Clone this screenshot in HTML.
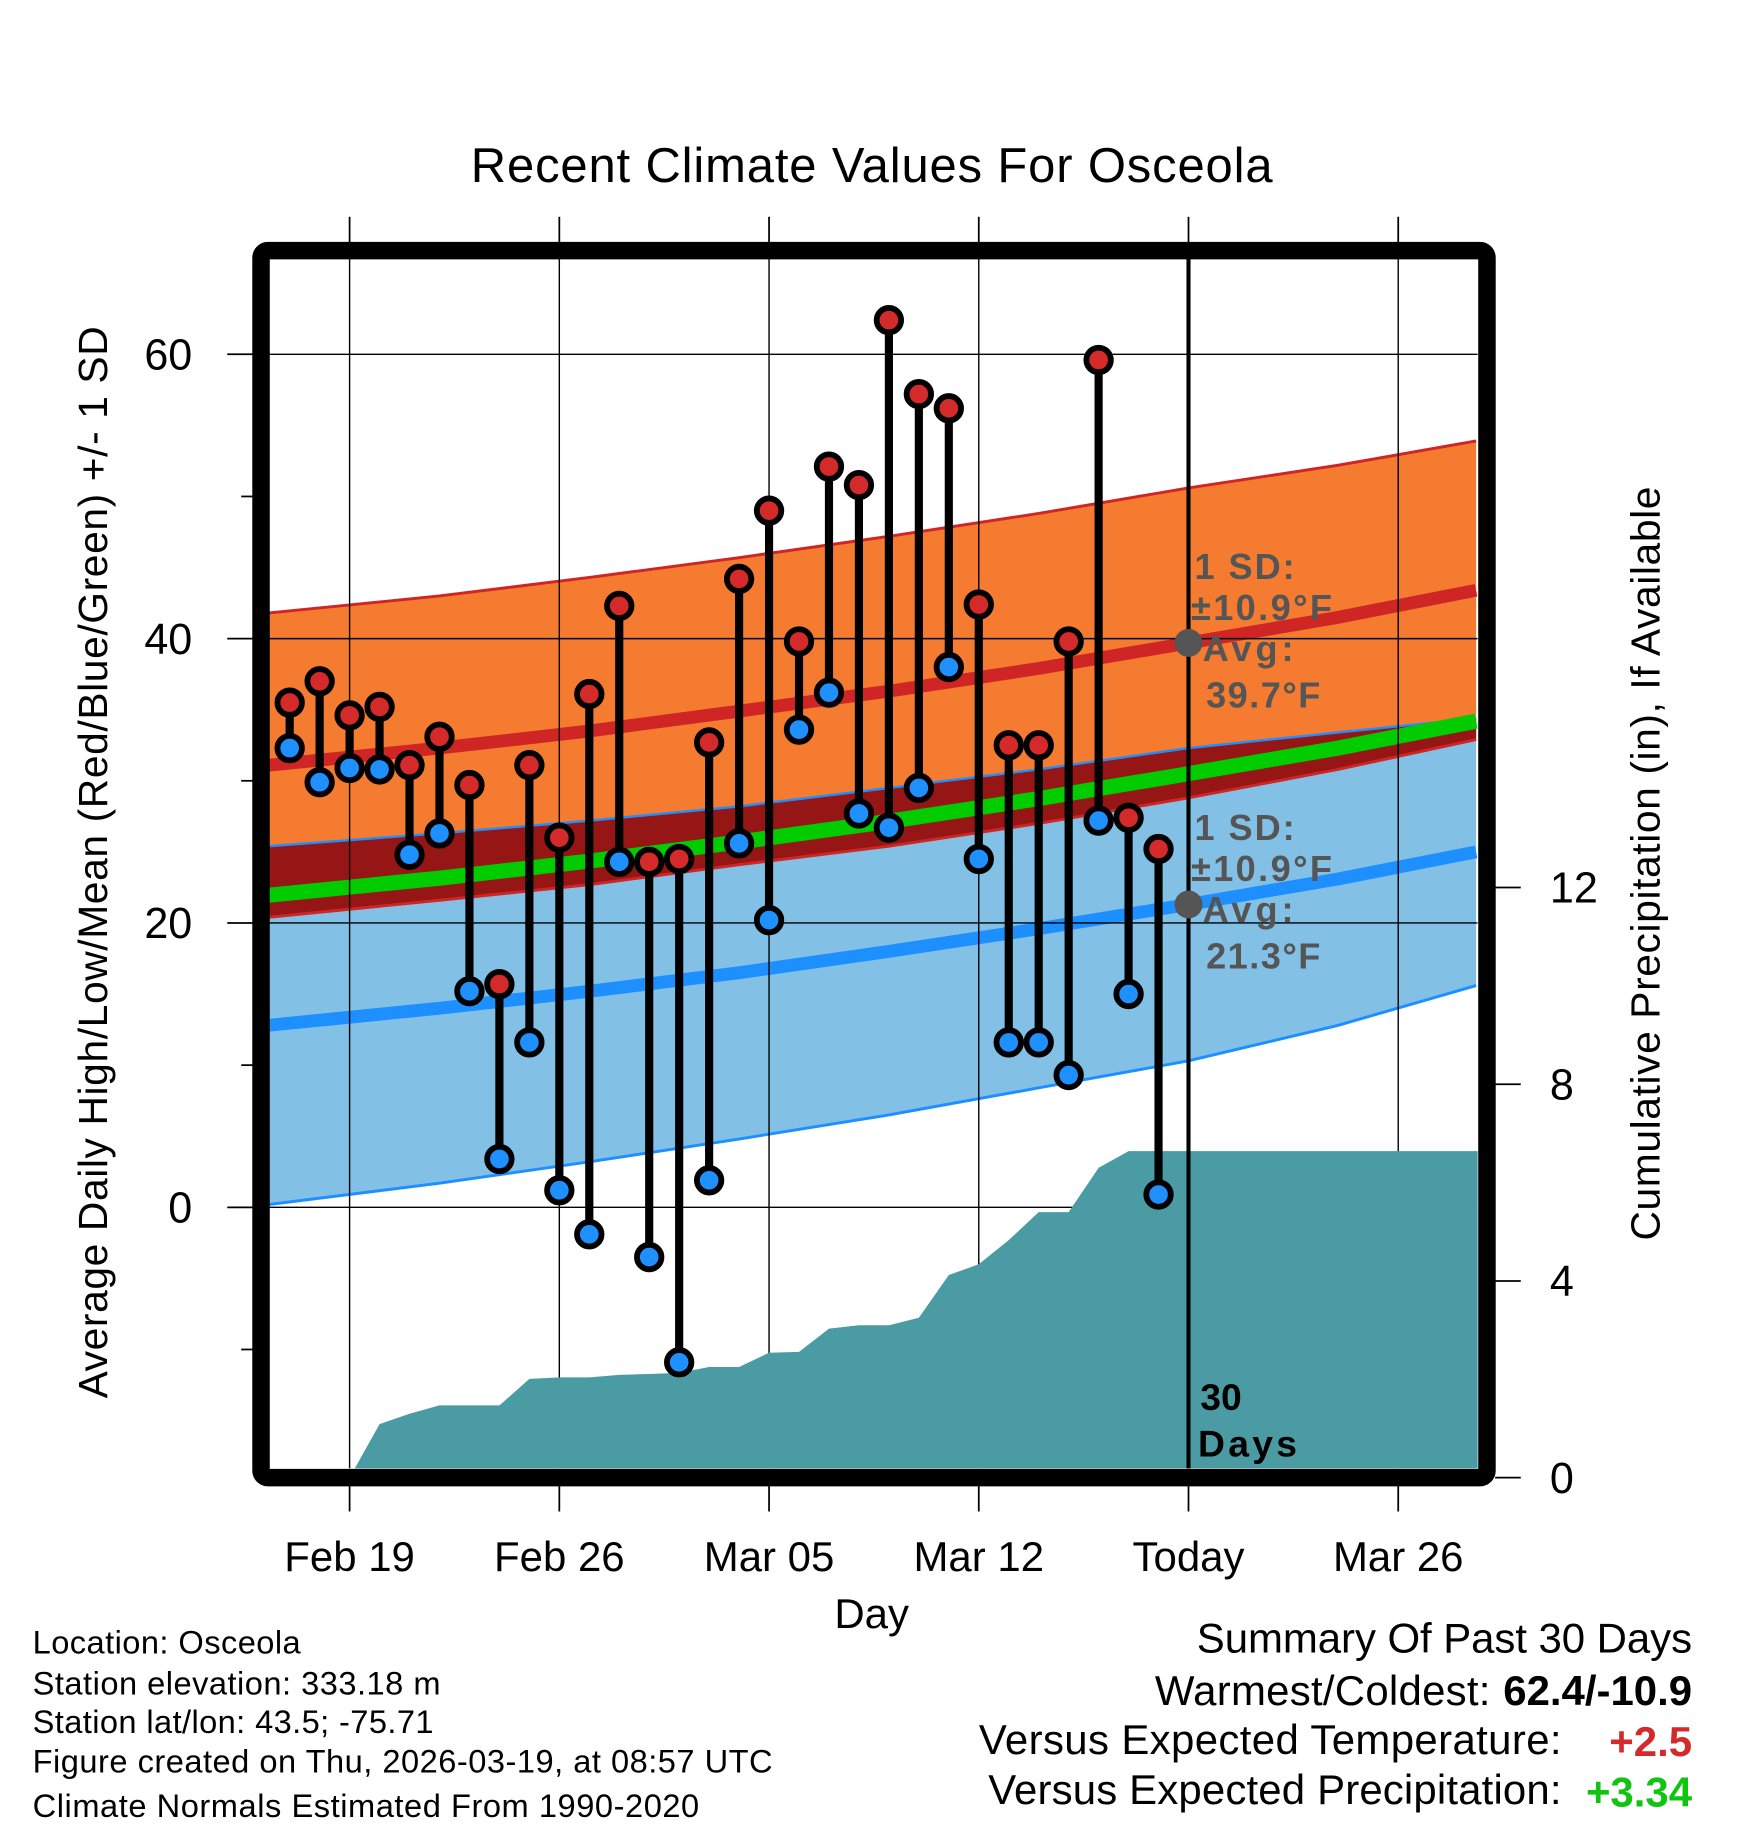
<!DOCTYPE html>
<html><head><meta charset="utf-8"><style>
html,body{margin:0;padding:0;background:#fff}
svg{display:block}
text{font-family:"Liberation Sans",Arial,sans-serif}
</style></head><body>
<svg id="chart" width="1748" height="1828" viewBox="0 0 1500 1568.6" xmlns="http://www.w3.org/2000/svg">
<g id="layer"></g>
</svg>
<script>
const days = [-2,-1,0,1,2,3,4,5,6,7,8,9,10,11,12,13,14,15,16,17,18,19,20,21,22,23,24,25,26,27];
const highs = [35.5,37.0,34.6,35.2,31.1,33.1,29.7,15.7,31.1,26.0,36.1,42.3,24.3,24.5,32.7,44.2,49.0,39.8,52.1,50.8,62.4,57.2,56.2,42.4,32.5,32.5,39.8,59.6,27.4,25.2];
const lows = [32.3,29.9,30.9,30.8,24.8,26.3,15.2,3.4,11.6,1.2,-1.9,24.3,-3.5,-10.9,1.9,25.6,20.2,33.6,36.2,27.7,26.7,29.5,38.0,24.5,11.6,11.6,9.3,27.2,15.0,0.9];
const precip = [0,0,0,1.09,1.30,1.47,1.47,1.47,2.01,2.04,2.04,2.09,2.11,2.13,2.25,2.25,2.54,2.56,3.03,3.10,3.10,3.25,4.12,4.34,4.83,5.40,5.40,6.30,6.64,6.64];
const normDays = [-2.7,3,8,13,18,23,28,33,37.6];
const highAvg = [31.1,32.3,33.5,34.9,36.3,37.9,39.7,41.5,43.4];
const highSD = [10.7,10.7,10.8,10.8,10.9,10.9,10.9,10.7,10.5];
const lowAvg = [12.8,14.0,15.2,16.5,18.0,19.6,21.3,23.1,25.0];
const lowSD = [12.6,12.3,12.0,11.7,11.5,11.2,11.0,10.3,9.4];
const yTicks = [0,20,40,60];
const yMinor = [-10,10,30,50];
const pTicks = [0,4,8,12];
const xTickDays = [0,7,14,21,28,35];
const xTickLabels = ["Feb 19","Feb 26","Mar 05","Mar 12","Today","Mar 26"];
const todayDay = 28;

const X0=231,X1=1268,Y0=222,Y1=1260;
const xs = d => 300 + d*25.71;
const ys = v => 1036 - v*12.2;
const yp = p => 1268 - p*42.2;
const NS="http://www.w3.org/2000/svg";
const L=document.getElementById('layer');
function mk(tag,attrs,parent){const e=document.createElementNS(NS,tag);for(const k in attrs)e.setAttribute(k,attrs[k]);(parent||L).appendChild(e);return e;}
function txt(s,attrs){const e=mk('text',attrs);e.textContent=s;return e;}
const pts=(arr)=>arr.map(p=>p[0].toFixed(1)+','+p[1].toFixed(1)).join(' ');

const defs=mk('defs',{});const cp=mk('clipPath',{id:'pc'},defs);mk('rect',{x:X0,y:Y0,width:X1-X0,height:Y1-Y0},cp);
const g=mk('g',{'clip-path':'url(#pc)'});

const hiU=normDays.map((d,i)=>[xs(d),ys(highAvg[i]+highSD[i])]);
const hiLo=normDays.map((d,i)=>[xs(d),ys(highAvg[i]-highSD[i])]);
const loU=normDays.map((d,i)=>[xs(d),ys(lowAvg[i]+lowSD[i])]);
const loLo=normDays.map((d,i)=>[xs(d),ys(lowAvg[i]-lowSD[i])]);
let e;
e=mk('polygon',{points:pts(hiU.concat(hiLo.slice().reverse())),fill:'#f47b30'},g);

e=mk('polygon',{points:pts(loU.concat(loLo.slice().reverse())),fill:'#82c0e6'},g);

e=mk('polygon',{points:pts(loU.concat(hiLo.slice().reverse())),fill:'#961515'},g);

mk('polyline',{points:pts(hiU),fill:'none',stroke:'#d02525','stroke-width':2.5},g);
mk('polyline',{points:pts(hiLo),fill:'none',stroke:'#d02525','stroke-width':2.5},g);
mk('polyline',{points:pts(loU),fill:'none',stroke:'#1e8fff','stroke-width':2},g);
mk('polyline',{points:pts(loLo),fill:'none',stroke:'#1e8fff','stroke-width':2.5},g);
e=mk('polyline',{points:pts(normDays.map((d,i)=>[xs(d),ys((highAvg[i]+lowAvg[i])/2)])),fill:'none',stroke:'#00cc00','stroke-width':13},g);

e=mk('polyline',{points:pts(normDays.map((d,i)=>[xs(d),ys(highAvg[i])])),fill:'none',stroke:'#d02525','stroke-width':11},g);

e=mk('polyline',{points:pts(normDays.map((d,i)=>[xs(d),ys(lowAvg[i])])),fill:'none',stroke:'#1e8fff','stroke-width':11},g);


yTicks.forEach(v=>{mk('line',{x1:X0,x2:X1,y1:ys(v),y2:ys(v),stroke:'#000','stroke-width':1.2},g);});
xTickDays.forEach(d=>{mk('line',{x1:xs(d),x2:xs(d),y1:Y0,y2:Y1,stroke:'#000','stroke-width':1.2},g);});

const pp=[[xs(days[0]),yp(0)]];
days.forEach((d,i)=>pp.push([xs(d),yp(precip[i])]));
pp.push([X1+5,yp(precip[precip.length-1])]);pp.push([X1+5,yp(0)]);
e=mk('polygon',{points:pts(pp),fill:'#4a9ba4'},g);


e=mk('line',{x1:xs(todayDay),x2:xs(todayDay),y1:Y0,y2:Y1,stroke:'#000','stroke-width':3.5},g);


days.forEach((d,i)=>{
  e=mk('line',{x1:xs(d),x2:xs(d),y1:ys(highs[i]),y2:ys(lows[i]),stroke:'#000','stroke-width':7});
  
});
days.forEach((d,i)=>{
  e=mk('circle',{cx:xs(d),cy:ys(highs[i]),r:10.5,fill:'#d42a2a',stroke:'#000','stroke-width':5});
  
  e=mk('circle',{cx:xs(d),cy:ys(lows[i]),r:10.5,fill:'#1e90ff',stroke:'#000','stroke-width':5});
  
});

const tHi=highAvg[6], tLo=lowAvg[6];
e=mk('circle',{cx:xs(todayDay),cy:ys(tHi),r:12,fill:'#555'});
e=mk('circle',{cx:xs(todayDay),cy:ys(tLo),r:12,fill:'#555'});
function ann(y0,sd,avg,name){
  const a={fill:'#555','font-size':31,'font-weight':'bold'};
  e=txt('1 SD:',Object.assign({x:1025,y:y0,textLength:86},a));
  e=txt('±'+sd.toFixed(1)+'°F',Object.assign({x:1022,y:y0+35,textLength:121},a));
  e=txt('Avg:',Object.assign({x:1032,y:y0+70,textLength:78},a));
  e=txt(avg.toFixed(1)+'°F',Object.assign({x:1035,y:y0+110,textLength:98},a));
}
ann(497,10.9,tHi,'high');
ann(721,10.9,tLo,'low');
e=txt('30',{x:1030,y:1210,'font-size':32,'font-weight':'bold'});
e=txt('Days',{x:1028,y:1250,'font-size':32,'font-weight':'bold',textLength:85});

e=mk('rect',{x:224,y:215,width:1052,height:1053,fill:'none',stroke:'#000','stroke-width':15,rx:6});


yTicks.forEach(v=>{
  mk('line',{x1:195,x2:218,y1:ys(v),y2:ys(v),stroke:'#000','stroke-width':1.5});
  e=txt(String(v),{x:165,y:ys(v)+13,'font-size':37,'text-anchor':'end'});
  
});
yMinor.forEach(v=>{mk('line',{x1:207,x2:218,y1:ys(v),y2:ys(v),stroke:'#000','stroke-width':1.5});});
pTicks.forEach(p=>{
  mk('line',{x1:1283,x2:1305,y1:yp(p),y2:yp(p),stroke:'#000','stroke-width':1.5});
  e=txt(String(p),{x:1330,y:yp(p)+13,'font-size':37});
  
});
xTickDays.forEach((d,i)=>{
  mk('line',{x1:xs(d),x2:xs(d),y1:186,y2:208,stroke:'#000','stroke-width':1.5});
  mk('line',{x1:xs(d),x2:xs(d),y1:1275,y2:1297,stroke:'#000','stroke-width':1.5});
  e=txt(xTickLabels[i],{x:xs(d),y:1348,'font-size':36,'text-anchor':'middle'});
  
});
e=txt('Day',{x:748,y:1397,'font-size':36,'text-anchor':'middle'});
e=txt('Recent Climate Values For Osceola',{x:748,y:156,'font-size':42,'text-anchor':'middle',textLength:688});
e=txt('Average Daily High/Low/Mean (Red/Blue/Green) +/- 1 SD',{x:0,y:0,'font-size':35,'text-anchor':'middle',textLength:920,transform:'translate(92,740) rotate(-90)'});
e=txt('Cumulative Precipitation (in), If Available',{x:0,y:0,'font-size':35,'text-anchor':'middle',textLength:647,transform:'translate(1424,741) rotate(-90)'});

const foot=['Location: Osceola','Station elevation: 333.18 m','Station lat/lon: 43.5; -75.71','Figure created on Thu, 2026-03-19, at 08:57 UTC','Climate Normals Estimated From 1990-2020'];
const footW=[230,350,344,635,572];
const fy=[1419,1454,1487,1521,1559];
foot.forEach((s,i)=>{e=txt(s,{x:28,y:fy[i],'font-size':28,textLength:footW[i]});});
e=txt('Summary Of Past 30 Days',{x:1452,y:1418,'font-size':36,'text-anchor':'end',textLength:425});
e=txt('Warmest/Coldest:',{x:1279,y:1463,'font-size':36,'text-anchor':'end',textLength:288});
e=txt('62.4/-10.9',{x:1452,y:1463,'font-size':36,'font-weight':'bold','text-anchor':'end',textLength:162});
e=txt('Versus Expected Temperature:',{x:1340,y:1505,'font-size':36,'text-anchor':'end',textLength:500});
e=txt('+2.5',{x:1452,y:1507,'font-size':36,'font-weight':'bold','text-anchor':'end',fill:'#d42a2a'});
e=txt('Versus Expected Precipitation:',{x:1340,y:1548,'font-size':36,'text-anchor':'end',textLength:492});
e=txt('+3.34',{x:1452,y:1550,'font-size':36,'font-weight':'bold','text-anchor':'end',fill:'#11c411'});
</script>
</body></html>
